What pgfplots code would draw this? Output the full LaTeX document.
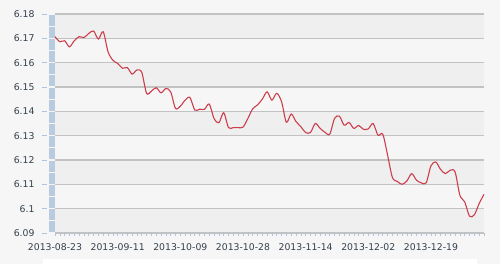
\documentclass[border=0pt]{standalone}
\usepackage{pgfplots}
\pgfplotsset{compat=1.18}
\usepackage{fontspec}
\setmainfont{DejaVu Sans}
\definecolor{bg}{HTML}{F6F6F6}
\definecolor{band}{HTML}{EFEFEF}
\definecolor{gridc}{HTML}{C2C2C2}
\definecolor{axblue}{HTML}{B9CBDF}
\definecolor{tickblue}{HTML}{B0C4DE}
\definecolor{lbl}{HTML}{34404C}
\definecolor{redl}{HTML}{CC3E4C}
\begin{document}
\begin{tikzpicture}[x=1pt,y=1pt]
\fill[bg] (0,0) rectangle (500,264);
\fill[white] (43,0) rectangle (477,5);
% alternating bands
\foreach \k in {0,2,4,6,8} {
  \fill[band] (55,{250-24.333*(\k+1)}) rectangle (484,{250-24.333*\k});
}
% left blue bar with gaps
\foreach \j in {0,...,17} {
  \fill[axblue] (49,{31+12.1667*\j+0.6}) rectangle (54.5,{31+12.1667*(\j+1)-0.6});
}
% y tick marks
\foreach \j in {0,...,9} {
  \draw[tickblue, line width=0.9pt] (41.5,{31+24.333*\j}) -- (47,{31+24.333*\j});
}
\draw[tickblue, line width=0.9pt] (55,31) -- (484,31);
\begin{axis}[
  at={(55pt,31pt)}, anchor=south west,
  width=429pt, height=219pt, scale only axis,
  xmin=0, xmax=89, ymin=6.09, ymax=6.18,
  axis line style={draw=none},
  xtick pos=bottom, ytick pos=left,
  xtick={0,13,26,39,52,65,78},
  xticklabels={2013-08-23,2013-09-11,2013-10-09,2013-10-28,2013-11-14,2013-12-02,2013-12-19},
  minor xtick={0,...,89},
  xtick style={tickblue, line width=0.6pt},
  minor tick style={tickblue, line width=0.6pt},
  tick align=outside,
  major tick length=3pt, minor tick length=3pt,
  ytick={6.09,6.10,6.11,6.12,6.13,6.14,6.15,6.16,6.17,6.18},
  yticklabels={6.09,6.1,6.11,6.12,6.13,6.14,6.15,6.16,6.17,6.18},
  ytick style={draw=none},
  ymajorgrids=true, xmajorgrids=false, xminorgrids=false,
  major grid style={gridc, line width=1.1pt},
  tick label style={font=\fontsize{9.3}{11}\selectfont, text=lbl},
  yticklabel style={anchor=east, xshift=-14pt},
  xticklabel style={anchor=north, yshift=-4pt},
  clip=false,
]
\addplot[redl, line width=1.1pt, smooth, tension=0.5] coordinates {
(0,6.1707) (1,6.1686) (2,6.1690) (3,6.1665) (4,6.1690) (5,6.1707) (6,6.1703) (7,6.1720) (8,6.1730) (9,6.1697)
(10,6.1727) (11,6.1645) (12,6.1610) (13,6.1597) (14,6.1577) (15,6.1580) (16,6.1553) (17,6.1570) (18,6.1560) (19,6.1474)
(20,6.1483) (21,6.1497) (22,6.1476) (23,6.1494) (24,6.1480) (25,6.1412) (26,6.1421) (27,6.1446) (28,6.1457) (29,6.1405)
(30,6.1409) (31,6.1408) (32,6.1430) (33,6.1370) (34,6.1353) (35,6.1394) (36,6.1333) (37,6.1333) (38,6.1333) (39,6.1335)
(40,6.1370) (41,6.1410) (42,6.1426) (43,6.1450) (44,6.1480) (45,6.1446) (46,6.1474) (47,6.1440) (48,6.1355) (49,6.1389)
(50,6.1358) (51,6.1337) (52,6.1313) (53,6.1313) (54,6.1350) (55,6.1330) (56,6.1314) (57,6.1306) (58,6.1371) (59,6.1380)
(60,6.1343) (61,6.1354) (62,6.1330) (63,6.1342) (64,6.1326) (65,6.1328) (66,6.1350) (67,6.1302) (68,6.1306) (69,6.1220)
(70,6.1128) (71,6.1112) (72,6.1100) (73,6.1114) (74,6.1144) (75,6.1117) (76,6.1106) (77,6.1106) (78,6.1176) (79,6.1192)
(80,6.1161) (81,6.1144) (82,6.1158) (83,6.1151) (84,6.1055) (85,6.1028) (86,6.0969) (87,6.0975) (88,6.1021) (89,6.1059)
};
\end{axis}
\end{tikzpicture}
\end{document}
